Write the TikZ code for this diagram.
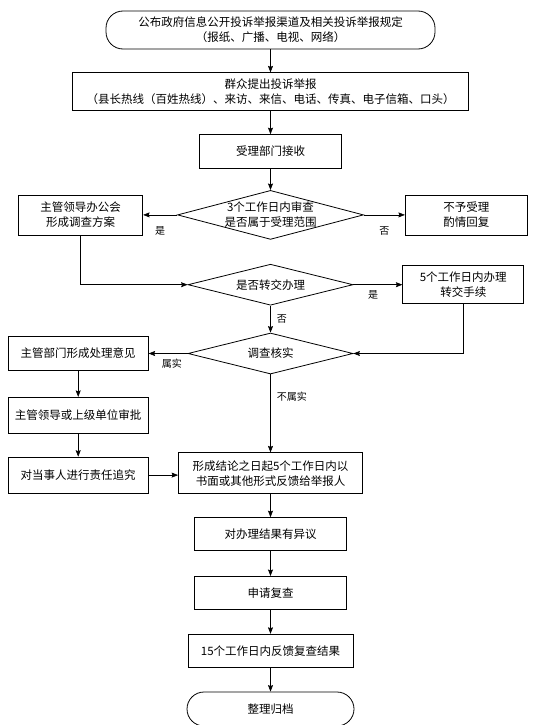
\documentclass[tikz,border=0pt]{standalone}
\usepackage{fontspec}
\setmainfont{Noto Sans CJK SC}
\usetikzlibrary{arrows.meta,positioning,shapes.geometric}
\tikzset{
    %Define standard arrow tip
    >={Stealth[length=6.5pt,width=5pt,inset=1pt]},
    %Define style for boxes
    kuang/.style={
           rectangle,
           draw=black, thick,
           inner sep=0pt,
           align=center,
           font=\fontsize{11.5pt}{15pt}\selectfont},
    % Define style for start and end
    yuanjiao/.style={
           kuang,
           rounded corners=17pt},
    % Define style for decisions
    panduan/.style={
           diamond,
           draw=black, thick,
           inner sep=-2pt,
           aspect=3.8,
           align=center,
           font=\fontsize{11.5pt}{15pt}\selectfont},
    % Define arrow style
    jiantou/.style={
           ->,
           semithick},
    % Define style for yes/no labels
    biaozhu/.style={
           font=\fontsize{10pt}{12pt}\selectfont,
           inner sep=1pt}
}

\begin{document}
\begin{tikzpicture}[node distance=23pt]
\useasboundingbox (0,0) rectangle (550pt,-725pt);
\node[yuanjiao, minimum width=329pt, minimum height=38pt] (gongbu) at (270.5pt,-30pt)
  {公布政府信息公开投诉举报渠道及相关投诉举报规定\\（报纸、广播、电视、网络）};
\node[kuang, minimum width=396pt, minimum height=38pt, below=of gongbu] (tichu)
  {群众提出投诉举报\\（县长热线（百姓热线）、来访、来信、电话、传真、电子信箱、口头）};
\node[kuang, minimum width=142pt, minimum height=34pt, below=of tichu] (jieshou) {受理部门接收};
\node[panduan, minimum width=186pt, minimum height=49pt, below=21pt of jieshou] (shencha)
  {3个工作日内审查\\是否属于受理范围};
\node[kuang, minimum width=124pt, minimum height=40pt, left=34pt of shencha] (fangan)
  {主管领导办公会\\形成调查方案};
\node[kuang, minimum width=122pt, minimum height=40pt, right=41pt of shencha] (huifu)
  {不予受理\\酌情回复};
\node[panduan, minimum width=165pt, minimum height=41pt, below=24pt of shencha] (zhuanjiao) {是否转交办理};
\node[kuang, minimum width=121pt, minimum height=38pt, right=49pt of zhuanjiao] (shouxu)
  {5个工作日内办理\\转交手续};
\node[panduan, minimum width=165pt, minimum height=41pt, below=27pt of zhuanjiao] (hecha) {调查核实};
\node[kuang, minimum width=140pt, minimum height=34pt, left=39pt of hecha] (yijian) {主管部门形成处理意见};
\node[kuang, minimum width=140pt, minimum height=36pt, below=26pt of yijian] (shenpi) {主管领导或上级单位审批};
\node[kuang, minimum width=140pt, minimum height=36pt, below=of shenpi] (zhuijiu) {对当事人进行责任追究};
\node[kuang, minimum width=184pt, minimum height=41pt, below=78pt of hecha] (fankui)
  {形成结论之日起5个工作日内以\\书面或其他形式反馈给举报人};
\node[kuang, minimum width=152pt, minimum height=33pt, below=of fankui] (yiyi) {对办理结果有异议};
\node[kuang, minimum width=152pt, minimum height=33pt, below=25pt of yiyi] (fucha) {申请复查};
\node[kuang, minimum width=165pt, minimum height=33pt, below=24pt of fucha] (jieguo) {15个工作日内反馈复查结果};
\node[yuanjiao, minimum width=167pt, minimum height=34pt, below=24pt of jieguo] (guidang) {整理归档};

% main column
\draw[jiantou] (gongbu) -- (tichu);
\draw[jiantou] (tichu) -- (jieshou);
\draw[jiantou] (jieshou) -- (shencha);
\draw[jiantou] (shencha) -- node[biaozhu, below=10pt] {是} (fangan);
\draw[jiantou] (shencha) -- node[biaozhu, below=10pt] {否} (huifu);
\draw[jiantou] (fangan) |- (zhuanjiao);
\draw[jiantou] (zhuanjiao) -- node[biaozhu, below=5pt, pos=0.4] {是} (shouxu);
\draw[jiantou] (zhuanjiao) -- node[biaozhu, right=5pt] {否} (hecha);
\draw[jiantou] (shouxu) |- (hecha);
\draw[jiantou] (hecha) -- node[biaozhu, below=4pt, pos=0.4] {属实} (yijian);
\draw[jiantou] (hecha) -- node[biaozhu, right=5pt, pos=0.28] {不属实} (fankui);
% left column
\draw[jiantou] (yijian) -- (shenpi);
\draw[jiantou] (shenpi) -- (zhuijiu);
\draw[jiantou] (zhuijiu) -- (zhuijiu -| fankui.west);
% review
\draw[jiantou] (fankui) -- (yiyi);
\draw[jiantou] (yiyi) -- (fucha);
\draw[jiantou] (fucha) -- (jieguo);
\draw[jiantou] (jieguo) -- (guidang);
\end{tikzpicture}
\end{document}
